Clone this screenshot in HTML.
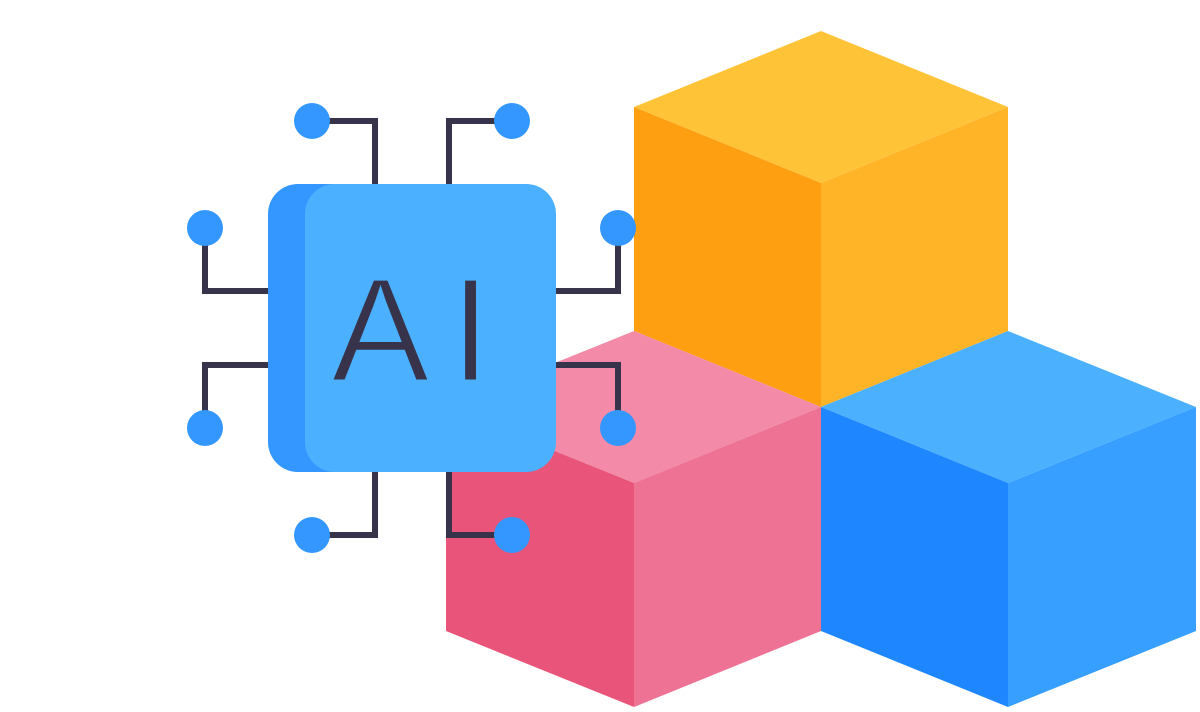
<!DOCTYPE html>
<html><head><meta charset="utf-8"><style>html,body{margin:0;padding:0;background:#fff}svg{display:block}</style></head>
<body>
<svg width="1200" height="712" viewBox="0 0 1200 712" xmlns="http://www.w3.org/2000/svg">
<polygon points="634,107 821,31 1008,107 821,183" fill="#FFC338"/>
<polygon points="634,107 821,183 821,407 634,331" fill="#FE9F12"/>
<polygon points="821,183 1008,107 1008,331 821,407" fill="#FFB428"/>
<polygon points="821,407 1008,331 1196,407 1008,483" fill="#4BB1FF"/>
<polygon points="821,407 1008,483 1008,707 821,631" fill="#1E86FF"/>
<polygon points="1008,483 1196,407 1196,631 1008,707" fill="#369FFF"/>
<polygon points="446,407 634,331 821,407 634,483" fill="#F28AA8"/>
<polygon points="446,407 634,483 634,707 446,631" fill="#E8547A"/>
<polygon points="634,483 821,407 821,631 634,707" fill="#EE7294"/>
<g fill="none" stroke="#37334A" stroke-width="6">
<polyline points="312,121 375,121 375,186"/>
<polyline points="512,121 449,121 449,186"/>
<polyline points="205,228 205,291 270,291"/>
<polyline points="270,365 205,365 205,428"/>
<polyline points="618,228 618,291 554,291"/>
<polyline points="554,365 618,365 618,428"/>
<polyline points="375,470 375,535 312,535"/>
<polyline points="449,470 449,535 512,535"/>
</g>
<g fill="#3497FF">
<circle cx="312" cy="121" r="18"/><circle cx="512" cy="121" r="18"/>
<circle cx="205" cy="228" r="18"/><circle cx="205" cy="428" r="18"/>
<circle cx="618" cy="228" r="18"/><circle cx="618" cy="428" r="18"/>
<circle cx="312" cy="535" r="18"/><circle cx="512" cy="535" r="18"/>
</g>
<rect x="268" y="184" width="260" height="288" rx="30" fill="#3497FF"/>
<rect x="305" y="184" width="251" height="288" rx="30" fill="#4BB0FF"/>
<g font-family="Liberation Sans, sans-serif" font-size="148" fill="#37334A" stroke="#4BB0FF" stroke-width="3">
<text x="331" y="381">A</text>
<text x="450" y="381">I</text>
</g>
</svg>
</body></html>
